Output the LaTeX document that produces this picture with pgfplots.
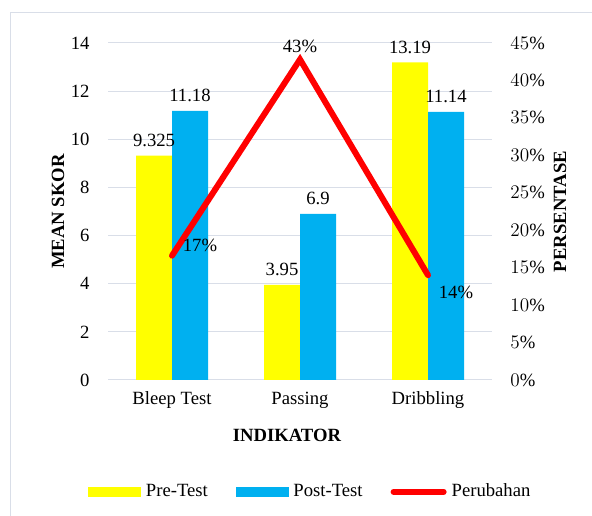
\documentclass[border=0pt]{standalone}
\usepackage{fontspec}
\setmainfont{Liberation Serif}
\usepackage{pgfplots}
\pgfplotsset{compat=1.18}

\definecolor{gridc}{RGB}{217,222,232}
\definecolor{preC}{RGB}{255,255,0}
\definecolor{postC}{RGB}{0,176,240}
\definecolor{lineC}{RGB}{255,0,0}

\begin{document}
\fontsize{14}{16}\selectfont
\begin{tikzpicture}[x=0.75pt,y=0.75pt]
\useasboundingbox (0,0) rectangle (592,516);
\clip (0,0) rectangle (592,516);
\draw[gridc, line width=0.75pt] (10,503) rectangle (620,-20);

% bars, left axis
\begin{axis}[
    at={(81pt,102pt)}, anchor=south west,
    scale only axis, width=288pt, height=252.75pt,
    xmin=-0.5, xmax=2.5, ymin=0, ymax=14,
    xtick={0,1,2},
    xticklabels={Bleep Test,Passing,Dribbling},
    ytick={0,2,...,14},
    ymajorgrids, grid style={gridc, line width=0.75pt},
    axis x line*=bottom, axis y line*=left,
    x axis line style={gridc, line width=0.75pt, -},
    y axis line style={draw=none},
    major tick length=0pt,
    /pgf/number format/assume math mode=true,
    yticklabel style={xshift=-9pt},
    xticklabel style={yshift=-4pt},
    ylabel={\textbf{MEAN SKOR}},
    ylabel style={at={(rel axis cs:0,0.5)}, anchor=center, yshift=37.5pt},
    xlabel={\textbf{INDIKATOR}},
    xlabel style={at={(rel axis cs:0.5,0)}, anchor=center, yshift=-41.25pt, xshift=-9.75pt},
    ybar=0pt, bar width=27pt,
    nodes near coords, point meta=explicit symbolic,
    nodes near coords style={yshift=2pt},
]
\addplot[fill=preC, draw=none] coordinates {
    (0,9.325) [9.325]
    (1,3.95)  [3.95]
    (2,13.19) [13.19]
};
\addplot[fill=postC, draw=none] coordinates {
    (0,11.18) [11.18]
    (1,6.9)   [6.9]
    (2,11.14) [11.14]
};
\end{axis}

% change line, right axis
\begin{axis}[
    at={(81pt,102pt)}, anchor=south west,
    scale only axis, width=288pt, height=252.75pt,
    xmin=-0.5, xmax=2.5, ymin=0, ymax=0.45,
    axis x line=none, axis y line*=right,
    y axis line style={draw=none},
    major tick length=0pt,
    ytick={0,0.05,...,0.46},
    yticklabel={\pgfmathparse{\tick*100}\pgfmathprintnumber[fixed,precision=0]{\pgfmathresult}\%},
    yticklabel style={xshift=9pt},
    ylabel={\textbf{PERSENTASE}},
    ylabel style={at={(rel axis cs:1,0.5)}, anchor=center, rotate=0, yshift=-51pt},
    legend columns=3,
    legend style={at={(0.531,-0.332)}, anchor=center, draw=none, fill=none,
        /tikz/every even column/.append style={column sep=17.25pt},
        nodes={inner ysep=1pt, inner xsep=3.75pt}},
]
\addlegendimage{legend image code/.code={\fill[preC] (0pt,-3.5pt) rectangle (39pt,3.5pt);}}
\addlegendentry{Pre-Test}
\addlegendimage{legend image code/.code={\fill[postC] (0pt,-3.5pt) rectangle (39pt,3.5pt);}}
\addlegendentry{Post-Test}
\addplot[lineC, line width=4.5pt, line cap=round, mark=none,
    legend image code/.code={\draw[lineC, line width=4.5pt, line cap=round] (2.25pt,0pt) -- (39.75pt,0pt);}]
    coordinates {(0,0.166) (1,0.428) (2,0.14)};
\addlegendentry{Perubahan}
\addplot[draw=none, forget plot, nodes near coords, point meta=explicit symbolic,
    nodes near coords style={anchor=center, xshift=21pt, yshift=7.5pt}]
    coordinates {(0,0.166) [17\%]};
\addplot[draw=none, forget plot, nodes near coords, point meta=explicit symbolic,
    nodes near coords style={anchor=center, yshift=9.75pt}]
    coordinates {(1,0.428) [43\%]};
\addplot[draw=none, forget plot, nodes near coords, point meta=explicit symbolic,
    nodes near coords style={anchor=center, xshift=21pt, yshift=-12.75pt}]
    coordinates {(2,0.14) [14\%]};
\end{axis}
\end{tikzpicture}
\end{document}
